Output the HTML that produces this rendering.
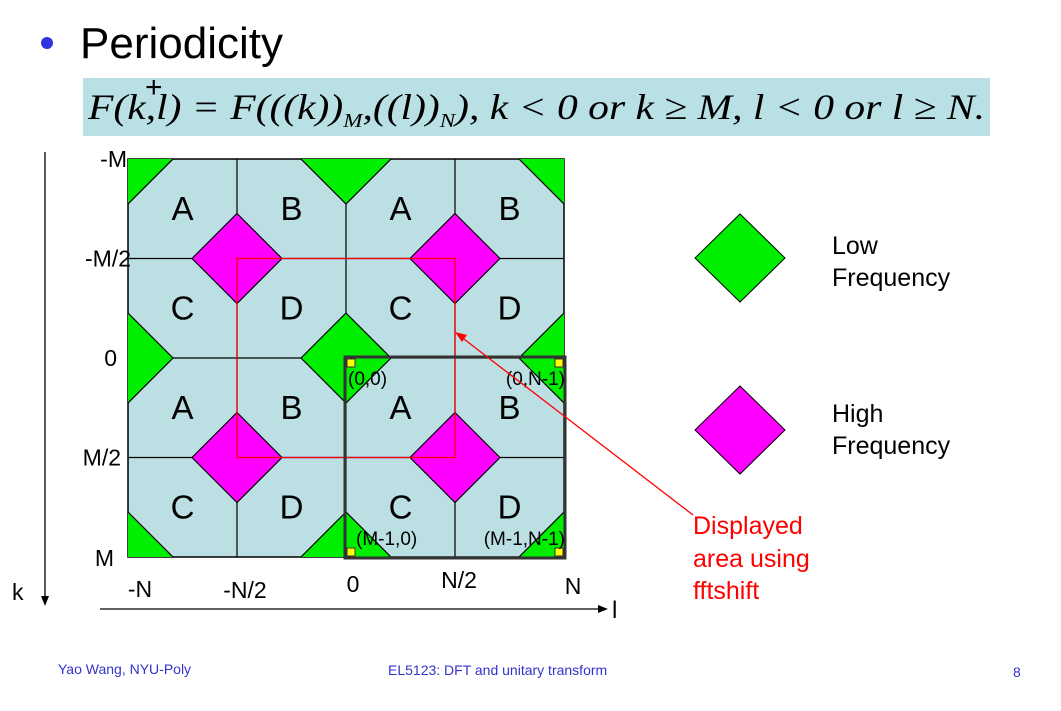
<!DOCTYPE html>
<html><head><meta charset="utf-8"><style>
body{margin:0;background:#fff;}
svg text{font-family:"Liberation Sans",sans-serif;}
svg text.serif{font-family:"Liberation Serif",serif;font-style:italic;}
</style></head><body>
<svg width="1061" height="706" viewBox="0 0 1061 706" xmlns="http://www.w3.org/2000/svg">
<circle cx="47" cy="43" r="6" fill="#3333dd"/>
<text x="80" y="58" font-size="44" fill="#000">Periodicity</text>
<rect x="83" y="78" width="907" height="58" fill="#b9e0e4"/>
<text class="serif" x="88" y="119" font-size="36" textLength="897" lengthAdjust="spacingAndGlyphs">F(k,l) = F(((k))<tspan font-size="20" dy="8">M</tspan><tspan dy="-8">,((l))</tspan><tspan font-size="20" dy="8">N</tspan><tspan dy="-8">),    k &lt; 0 or k ≥ M, l &lt; 0 or l ≥ N.</tspan></text>
<text x="145" y="97" font-size="30">+</text>
<g id="grid"></g>
<g>
<polygon points="740,214 785,258 740,302 695,258" fill="#00ee00" stroke="#000"/>
<text x="832" y="254" font-size="25">Low</text>
<text x="832" y="286" font-size="25">Frequency</text>
<polygon points="740,386 785,430 740,474 695,430" fill="#ff00ff" stroke="#000"/>
<text x="832" y="422" font-size="25">High</text>
<text x="832" y="454" font-size="25">Frequency</text>
</g>
<line x1="693" y1="515" x2="460" y2="336" stroke="#ff0000" stroke-width="1.3"/>
<polygon points="455,332 467,335 462,342" fill="#ff0000"/>
<text fill="#ff0000" font-size="25"><tspan x="693" y="534">Displayed</tspan><tspan x="693" y="567">area using</tspan><tspan x="693" y="599">fftshift</tspan></text>
<line x1="45" y1="152" x2="45" y2="598" stroke="#000" stroke-width="1.3"/>
<polygon points="41,596 49,596 45,606" fill="#000"/>
<text x="12" y="600" font-size="23">k</text>
<line x1="100" y1="609" x2="600" y2="609" stroke="#000" stroke-width="1.3"/>
<polygon points="598,605 608,609 598,613" fill="#000"/>
<text x="612" y="618" font-size="24">l</text>
<text x="58" y="674" font-size="14" fill="#3333cc">Yao Wang, NYU-Poly</text>
<text x="388" y="675" font-size="14" fill="#3333cc">EL5123: DFT and unitary transform</text>
<text x="1013" y="677" font-size="14" fill="#3333cc">8</text>
</svg>
<script>
const rowLabels=["-M","-M/2","0","M/2","M"];
const colLabels=["-N","-N/2","0","N/2","N"];
const cellLetters=[["A","B","A","B"],["C","D","C","D"],["A","B","A","B"],["C","D","C","D"]];
const cornerLabels=["(0,0)","(0,N-1)","(M-1,0)","(M-1,N-1)"];
const X0=128,X1=564,Y0=159,Y1=557;
const cw=(X1-X0)/4,ch=(Y1-Y0)/4;
const xs=i=>X0+i*cw, ys=j=>Y0+j*ch;
const NS="http://www.w3.org/2000/svg";
const g=document.getElementById('grid');
function mk(t,a,p){const e=document.createElementNS(NS,t);for(const k in a)e.setAttribute(k,a[k]);(p||g).appendChild(e);return e;}
const defs=mk('defs',{});const cp=mk('clipPath',{id:'gc'},defs);mk('rect',{x:X0,y:Y0,width:X1-X0,height:Y1-Y0},cp);
let bg=mk('rect',{x:X0,y:Y0,width:X1-X0,height:Y1-Y0,fill:'#bbdfe3',stroke:'#000','stroke-width':1.5});


for(let i=1;i<4;i++){
 let l=mk('line',{x1:xs(i),y1:Y0,x2:xs(i),y2:Y1,stroke:'#000','stroke-width':1.2});
 
 
 let h=mk('line',{x1:X0,y1:ys(i),x2:X1,y2:ys(i),stroke:'#000','stroke-width':1.2});
 
 
}
const dg=mk('g',{'clip-path':'url(#gc)'});
const r=45;
for(let i=0;i<=4;i++)for(let j=0;j<=4;j++){
 let col=null;
 if(i%2==0&&j%2==0)col='#00ee00';
 if(i%2==1&&j%2==1)col='#ff00ff';
 if(!col)continue;
 const cx=xs(i),cy=ys(j);
 let d=mk('polygon',{points:`${cx},${cy-r} ${cx+r},${cy} ${cx},${cy+r} ${cx-r},${cy}`,fill:col,stroke:'#000','stroke-width':1.2},dg);
 
 
}
for(let j=0;j<4;j++)for(let i=0;i<4;i++){
 let t=mk('text',{x:xs(i)+cw/2,y:ys(j)+ch/2+11,'font-size':33,'text-anchor':'middle'});
 t.textContent=cellLetters[j][i];
 
 
}
let rr=mk('rect',{x:xs(1),y:ys(1),width:2*cw,height:2*ch,fill:'none',stroke:'#ff0000','stroke-width':1.3});


let br=mk('rect',{x:xs(2)-1,y:ys(2)-1,width:2*cw+2,height:2*ch+2,fill:'none',stroke:'#333','stroke-width':3});


[[xs(2)+5,ys(2)+5],[X1-5,ys(2)+5],[xs(2)+5,Y1-5],[X1-5,Y1-5]].forEach(p=>{
 let s=mk('rect',{x:p[0]-4,y:p[1]-4,width:8,height:8,fill:'#ffff00',stroke:'#333'});
 
 
});
const cpos=[[xs(2)+2,ys(2)+27,'start'],[X1+1,ys(2)+27,'end'],[xs(2)+10,Y1-12,'start'],[X1+1,Y1-12,'end']];
cornerLabels.forEach((c,k)=>{
 let t=mk('text',{x:cpos[k][0],y:cpos[k][1],'font-size':19,'text-anchor':cpos[k][2]});
 t.textContent=c;
 
 
});
const rx=[127,131,117,121,114];
rowLabels.forEach((lb,j)=>{
 let t=mk('text',{x:rx[j],y:ys(j)+(j==0?8:j==4?9:8),'font-size':23,'text-anchor':'end'});
 t.textContent=lb;
 
 
});
const cxp=[140,245,353,459,573];
const cy=[597,598,592,588,594];
colLabels.forEach((lb,i)=>{
 let t=mk('text',{x:cxp[i],y:cy[i],'font-size':23,'text-anchor':'middle'});
 t.textContent=lb;
 
 
});
</script>
</body></html>
